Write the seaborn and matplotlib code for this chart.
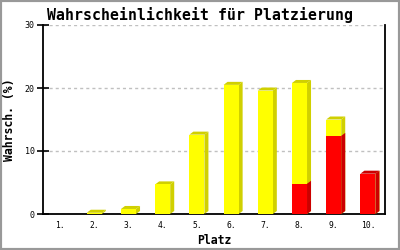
import matplotlib
matplotlib.use("Agg")
import matplotlib.pyplot as plt
from matplotlib.patches import Polygon, Rectangle
import seaborn as sns
import pandas as pd

places = ["1.", "2.", "3.", "4.", "5.", "6.", "7.", "8.", "9.", "10."]
yellow_vals = [0.0, 0.2, 0.8, 4.7, 12.6, 20.5, 19.6, 16.0, 2.6, 0.0]
red_vals = [0.0, 0.0, 0.0, 0.0, 0.0, 0.0, 0.0, 4.8, 12.4, 6.4]
title = "Wahrscheinlichkeit für Platzierung"
xlabel = "Platz"
ylabel = "Wahrsch. (%)"
yticks = [0, 10, 20, 30]

total_vals = [y + r for y, r in zip(yellow_vals, red_vals)]
df = pd.DataFrame({"Platz": places, "total": total_vals, "red": red_vals})

sns.set_style("white")
plt.rcParams["font.family"] = ["DejaVu Sans Mono", "DejaVu Sans"]
plt.rcParams["text.color"] = "black"
plt.rcParams["axes.labelcolor"] = "black"
plt.rcParams["xtick.color"] = "black"
plt.rcParams["ytick.color"] = "black"

fig = plt.figure(figsize=(4, 2.5), dpi=100)
ax = fig.add_axes([43 / 400, 36 / 250, 342 / 400, 189 / 250])

bw = 0.44
sns.barplot(data=df, x="Platz", y="total", color="#ffff00", saturation=1,
            width=bw, ax=ax, linewidth=0, zorder=3)
n_total = len(ax.patches)
sns.barplot(data=df, x="Platz", y="red", color="#ff0000", saturation=1,
            width=bw, ax=ax, linewidth=0, zorder=5)

ax.set_xlim(-0.5, len(places) - 0.5)
ax.set_ylim(0, 30)

# 3D depth offsets in pixels converted to data units
ax_w_px = 342.0
ax_h_px = 189.0
dx = 4.0 / ax_w_px * len(places)
dy = 3.0 / ax_h_px * 30

patches = list(ax.patches)
for i, p in enumerate(patches):
    x0 = p.get_x()
    w = p.get_width()
    h = p.get_height()
    x1 = x0 + w
    y0 = p.get_y()
    y1 = y0 + h
    is_red = i >= n_total
    idx = i - n_total if is_red else i
    if total_vals[idx] <= 0:
        continue
    if is_red and red_vals[idx] <= 0:
        continue
    dark = "#cc0000" if is_red else "#d0d000"
    z = 4.9 if is_red else 2.9
    side = Polygon([(x1, y0), (x1 + dx, y0 + dy), (x1 + dx, y1 + dy), (x1, y1)],
                   closed=True, facecolor=dark, edgecolor="none", zorder=z)
    ax.add_patch(side)
    topmost = (not is_red and yellow_vals[idx] > 0) or (is_red and yellow_vals[idx] <= 0)
    if topmost:
        top = Polygon([(x0, y1), (x1, y1), (x1 + dx, y1 + dy), (x0 + dx, y1 + dy)],
                      closed=True, facecolor=dark, edgecolor="none", zorder=z)
        ax.add_patch(top)

ax.set_yticks(yticks)
ax.yaxis.grid(True, linestyle=(0, (2.2, 2.2)), color="#c0c0c0", linewidth=1, zorder=0)
ax.xaxis.grid(False)
ax.set_axisbelow(True)

for s in ["left", "bottom", "right"]:
    ax.spines[s].set_visible(True)
    ax.spines[s].set_color("black")
    ax.spines[s].set_linewidth(1.3)
ax.spines["top"].set_visible(False)

ax.tick_params(axis="y", direction="inout", length=8, width=1.2, color="black",
               labelsize=6, pad=2, left=True, labelcolor="black")
ax.tick_params(axis="x", length=0, labelsize=5.8, pad=5, labelcolor="black")
ax.set_xlabel(xlabel, fontsize=8.3, fontweight="bold", labelpad=3, color="black")
ax.set_ylabel(ylabel, fontsize=8.3, fontweight="bold", color="black")
ax.yaxis.set_label_coords(-0.08, 0.5)
fig.text(0.5, 0.94, title, ha="center", va="center", fontsize=10.7,
         fontweight="bold", color="black")

fig.patches.append(Rectangle((0, 0), 1, 1, transform=fig.transFigure, fill=False,
                             edgecolor="#999999", linewidth=3, zorder=10))

fig.savefig("out.png", dpi=100, facecolor="white")
